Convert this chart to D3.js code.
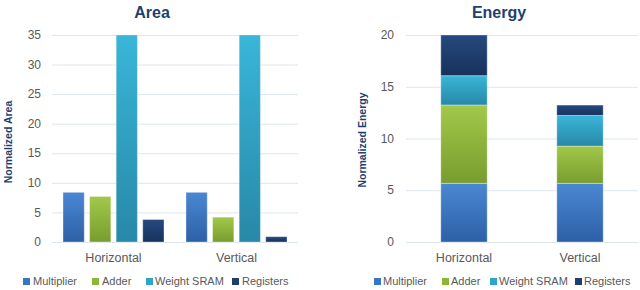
<!DOCTYPE html>
<html>
<head>
<meta charset="utf-8">
<script src="https://cdn.jsdelivr.net/npm/d3@7"></script>
<style>
  html, body { margin: 0; padding: 0; background: #fff; }
  svg { display: block; font-family: "Liberation Sans", Arial, sans-serif; }
</style>
</head>
<body>
<svg id="chart" width="640" height="290"></svg>
<script>
const categories = ["Horizontal", "Vertical"];
const series = ["Multiplier", "Adder", "Weight SRAM", "Registers"];
const areaValues = {
  "Multiplier":  [8.4, 8.4],
  "Adder":       [7.7, 4.2],
  "Weight SRAM": [35, 35],
  "Registers":   [3.8, 0.9]
};
const energyValues = {
  "Multiplier":  [5.67, 5.67],
  "Adder":       [7.57, 3.6],
  "Weight SRAM": [2.83, 2.96],
  "Registers":   [3.93, 1.0]
};
const areaTicks = [0, 5, 10, 15, 20, 25, 30, 35];
const energyTicks = [0, 5, 10, 15, 20];

const colors = {
  "Multiplier":  ["#4a88d2", "#2d60a6"],
  "Adder":       ["#a2c84a", "#789d2e"],
  "Weight SRAM": ["#39b6d8", "#2888a8"],
  "Registers":   ["#25497f", "#17325b"]
};
const legendColors = { "Multiplier": "#3b74c2", "Adder": "#8cb53c", "Weight SRAM": "#31a5c8", "Registers": "#1e3f6e" };

const svg = d3.select("#chart");
const defs = svg.append("defs");
series.forEach((s, i) => {
  const g = defs.append("linearGradient").attr("id", "grad" + i)
    .attr("x1", 0).attr("y1", 0).attr("x2", 0).attr("y2", 1);
  g.append("stop").attr("offset", "0%").attr("stop-color", colors[s][0]);
  g.append("stop").attr("offset", "100%").attr("stop-color", colors[s][1]);
});

const titleColor = "#1f3f6e";
const textColor = "#595959";
const gridColor = "#dde6ee";

function drawAxisCommon(y, ticks, x0, x1, labelX) {
  const g = svg.append("g");
  g.selectAll("line").data(ticks).join("line")
    .attr("x1", x0).attr("x2", x1)
    .attr("y1", d => y(d) + 0.5).attr("y2", d => y(d) + 0.5)
    .attr("stroke", gridColor).attr("stroke-width", 1);
  g.selectAll("text").data(ticks).join("text")
    .attr("x", labelX).attr("y", d => y(d)).attr("dy", "0.35em")
    .attr("text-anchor", "end").attr("fill", textColor)
    .attr("font-size", 12).text(d => d);
}

function drawLegend(items) {
  const g = svg.append("g");
  items.forEach(it => {
    g.append("rect").attr("x", it.sx).attr("y", 278).attr("width", 7).attr("height", 7)
      .attr("fill", legendColors[it.s]);
    g.append("text").attr("x", it.tx).attr("y", 281.5).attr("dy", "0.35em")
      .attr("fill", textColor).attr("font-size", 11).text(it.s);
  });
}

// ---------- Area chart (grouped) ----------
{
  const y = d3.scaleLinear().domain([0, 35]).range([242, 35]);
  const x0 = d3.scaleBand().domain(categories).range([52, 298]);
  const x1 = d3.scaleBand().domain(series).range([11, 112]).paddingInner(0.2);
  drawAxisCommon(y, areaTicks, 52, 298, 41);

  const g = svg.append("g");
  series.forEach((s, i) => {
    g.selectAll(null).data(areaValues[s]).join("rect")
      .attr("x", (d, j) => x0(categories[j]) + x1(s))
      .attr("width", x1.bandwidth())
      .attr("y", d => y(d))
      .attr("height", d => y(0) - y(d))
      .attr("fill", "url(#grad" + i + ")")
      .attr("stroke", "rgba(255,255,255,0.35)").attr("stroke-width", 1);
  });

  svg.selectAll(null).data(categories).join("text")
    .attr("x", d => x0(d) + x0.bandwidth() / 2).attr("y", 258).attr("dy", "0.35em")
    .attr("text-anchor", "middle").attr("fill", textColor).attr("font-size", 12.5).text(d => d);

  svg.append("text").attr("x", 152).attr("y", 18).attr("text-anchor", "middle")
    .attr("fill", titleColor).attr("font-size", 16).attr("font-weight", "bold").text("Area");

  svg.append("text").attr("transform", "translate(12,142) rotate(-90)")
    .attr("text-anchor", "middle").attr("fill", titleColor)
    .attr("font-size", 10.5).attr("font-weight", "bold").text("Normalized Area");

  drawLegend([
    { s: "Multiplier", sx: 23, tx: 33 },
    { s: "Adder", sx: 92, tx: 102 },
    { s: "Weight SRAM", sx: 146, tx: 155 },
    { s: "Registers", sx: 232, tx: 242 }
  ]);
}

// ---------- Energy chart (stacked) ----------
{
  const y = d3.scaleLinear().domain([0, 20]).range([242, 35]);
  const x = d3.scaleBand().domain(categories).range([406, 638]).paddingInner(0.6).paddingOuter(0.3);
  drawAxisCommon(y, energyTicks, 406, 638, 394);

  const table = categories.map((c, j) => {
    const row = { category: c };
    series.forEach(s => row[s] = energyValues[s][j]);
    return row;
  });
  const stacked = d3.stack().keys(series)(table);

  const g = svg.append("g");
  stacked.forEach((layer, i) => {
    g.selectAll(null).data(layer).join("rect")
      .attr("x", d => x(d.data.category))
      .attr("width", x.bandwidth())
      .attr("y", d => y(d[1]))
      .attr("height", d => y(d[0]) - y(d[1]))
      .attr("fill", "url(#grad" + i + ")")
      .attr("stroke", "rgba(255,255,255,0.35)").attr("stroke-width", 1);
  });

  svg.selectAll(null).data(categories).join("text")
    .attr("x", d => x(d) + x.bandwidth() / 2).attr("y", 258).attr("dy", "0.35em")
    .attr("text-anchor", "middle").attr("fill", textColor).attr("font-size", 12.5).text(d => d);

  svg.append("text").attr("x", 499).attr("y", 18).attr("text-anchor", "middle")
    .attr("fill", titleColor).attr("font-size", 16).attr("font-weight", "bold").text("Energy");

  svg.append("text").attr("transform", "translate(366,140) rotate(-90)")
    .attr("text-anchor", "middle").attr("fill", titleColor)
    .attr("font-size", 10.5).attr("font-weight", "bold").text("Normalized Energy");

  drawLegend([
    { s: "Multiplier", sx: 374, tx: 383 },
    { s: "Adder", sx: 442, tx: 451 },
    { s: "Weight SRAM", sx: 490, tx: 499 },
    { s: "Registers", sx: 575, tx: 584 }
  ]);
}
</script>
</body>
</html>
